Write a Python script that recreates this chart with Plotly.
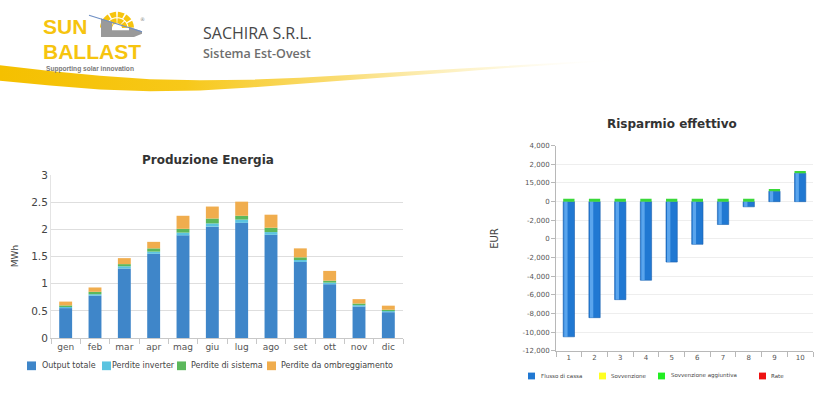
import math
import plotly.graph_objects as go

W, H = 834, 398

# ---------------- data: Produzione Energia (MWh) ----------------
months = ["gen", "feb", "mar", "apr", "mag", "giu", "lug", "ago", "set", "ott", "nov", "dic"]
output_totale = [0.55, 0.78, 1.28, 1.55, 1.89, 2.05, 2.12, 1.90, 1.40, 0.99, 0.58, 0.475]
perdite_inverter = [0.02, 0.025, 0.04, 0.04, 0.05, 0.06, 0.06, 0.05, 0.035, 0.03, 0.025, 0.02]
perdite_sistema = [0.03, 0.045, 0.04, 0.06, 0.07, 0.09, 0.07, 0.08, 0.05, 0.035, 0.03, 0.025]
perdite_ombreggiamento = [0.07, 0.08, 0.11, 0.12, 0.24, 0.22, 0.26, 0.24, 0.165, 0.18, 0.08, 0.075]

# ---------------- data: Risparmio effettivo (EUR, axis units) ----------------
anni = ["1", "2", "3", "4", "5", "6", "7", "8", "9", "10"]
flusso_di_cassa = [-14480, -12430, -10500, -8420, -6470, -4570, -2450, -550, 1110, 3050]
sovvenzione = [0, 0, 0, 0, 0, 0, 0, 0, 0, 0]
sovvenzione_aggiuntiva = [300, 300, 300, 300, 300, 300, 300, 300, 240, 240]
rate = [0, 0, 0, 0, 0, 0, 0, 0, 0, 0]
eur_tick_labels = ["4,000", "2,000", "15,000", "0", "-2,000", "0", "-2,000",
                   "-4,000", "-6,000", "-8,000", "-10,000", "-12,000"]
eur_tick_step = 2000
eur_tick_top = 6000


def px(x):
    return x / W


def py(y):
    return 1 - y / H


FONT = "DejaVu Sans, Verdana, sans-serif"
LOGO_FONT = "Liberation Sans Narrow, Arial Narrow, Liberation Sans, sans-serif"
C_OUT, C_INV, C_SYS, C_SHD = "#3f86c9", "#5bc3e0", "#5cb85c", "#f0ad4e"
C_FLUX, C_SOV, C_AGG, C_RATE = "#2078d2", "#ffff22", "#22ee22", "#ee1111"

fig = go.Figure()

# left chart
for name, vals, col in [("Output totale", output_totale, C_OUT),
                        ("Perdite inverter", perdite_inverter, C_INV),
                        ("Perdite di sistema", perdite_sistema, C_SYS),
                        ("Perdite da ombreggiamento", perdite_ombreggiamento, C_SHD)]:
    fig.add_trace(go.Bar(x=months, y=vals, name=name, marker=dict(color=col, line=dict(width=0)),
                         xaxis="x", yaxis="y", showlegend=False))

# right chart
fig.add_trace(go.Bar(x=anni, y=flusso_di_cassa, name="Flusso di cassa",
                     marker=dict(color=C_FLUX, line=dict(color="#1a5fae", width=0.6)),
                     xaxis="x2", yaxis="y2", showlegend=False))
fig.add_trace(go.Bar(x=anni, y=sovvenzione, name="Sovvenzione",
                     marker=dict(color=C_SOV, line=dict(width=0)),
                     xaxis="x2", yaxis="y2", showlegend=False))
fig.add_trace(go.Bar(x=anni, y=sovvenzione_aggiuntiva, name="Sovvenzione aggiuntiva",
                     marker=dict(color="#3ad83a", line=dict(width=0)),
                     xaxis="x2", yaxis="y2", showlegend=False))
fig.add_trace(go.Bar(x=anni, y=rate, name="Rate",
                     marker=dict(color=C_RATE, line=dict(width=0)),
                     xaxis="x2", yaxis="y2", showlegend=False))
# cylinder highlight on the cash-flow bars
fig.add_trace(go.Bar(x=anni, y=flusso_di_cassa, width=0.13, offset=-0.18,
                     marker=dict(color="rgba(110,180,245,0.75)", line=dict(width=0)),
                     xaxis="x4", yaxis="y4", showlegend=False))

# header swoosh
sw_top = [(0, 61), (50, 67), (100, 72), (150, 75.5), (200, 76.5), (250, 76), (300, 74), (350, 71),
          (400, 68), (450, 65), (500, 62), (560, 58), (620, 55)]
sw_bot = [(620, 56), (560, 60), (500, 64.5), (450, 68.5), (400, 72.5), (350, 76.5), (300, 80.5),
          (250, 84), (200, 87), (150, 88), (100, 86), (50, 82), (0, 77)]
pts = sw_top + sw_bot + [sw_top[0]]
fig.add_trace(go.Scatter(x=[p[0] for p in pts], y=[p[1] for p in pts], mode="lines",
                         line=dict(width=0), fill="toself",
                         fillgradient=dict(type="horizontal", colorscale=[
                             [0, "rgb(245,192,0)"], [0.3, "rgb(247,200,25)"],
                             [0.55, "rgba(249,214,90,0.85)"], [0.8, "rgba(252,236,170,0.45)"],
                             [1, "rgba(255,255,255,0)"]]),
                         xaxis="x3", yaxis="y3", showlegend=False, hoverinfo="skip"))

shapes = []
annotations = []

# ---- logo ----
LOGO_Y = "#f6c40f"
cx, cy = 117, 23
for r0, r1, n in [(5, 10.5, 4), (11.5, 17, 6)]:
    span = 180 / n
    for k in range(n):
        a0 = math.radians(k * span + 3)
        a1 = math.radians((k + 1) * span - 3)
        steps = 4
        outer = [(cx + r1 * math.cos(a0 + (a1 - a0) * i / steps), cy - r1 * math.sin(a0 + (a1 - a0) * i / steps)) for i in range(steps + 1)]
        inner = [(cx + r0 * math.cos(a1 - (a1 - a0) * i / steps), cy - r0 * math.sin(a1 - (a1 - a0) * i / steps)) for i in range(steps + 1)]
        path = "M " + " L ".join(f"{x:.2f},{y:.2f}" for x, y in outer + inner) + " Z"
        shapes.append(dict(type="path", xref="x3", yref="y3", path=path, fillcolor=LOGO_Y,
                           line=dict(width=0), layer="above"))
shapes.append(dict(type="path", xref="x3", yref="y3",
                   path="M 101,13 L 112,16.5 L 112,25 L 129,25 L 129,21.5 L 142,26 L 142,28.5 L 134,32 L 101,32 Z",
                   fillcolor="#9a9a9a", line=dict(width=0), layer="above"))
shapes.append(dict(type="line", xref="x3", yref="y3", x0=89, y0=9.5, x1=142, y1=26.5,
                   line=dict(color="#6f8fc4", width=1.2), layer="above"))
annotations += [
    dict(xref="x3", yref="y3", x=41, y=21.5, text="<b>SUN</b>", showarrow=False, xanchor="left", yanchor="middle",
         font=dict(family=LOGO_FONT, size=21, color=LOGO_Y)),
    dict(xref="x3", yref="y3", x=41, y=47, text="<b>BALLAST</b>", showarrow=False, xanchor="left", yanchor="middle",
         font=dict(family=LOGO_FONT, size=21, color=LOGO_Y)),
    dict(xref="x3", yref="y3", x=44, y=65, text="<b>Supporting solar innovation</b>", showarrow=False,
         xanchor="left", yanchor="middle",
         font=dict(family=LOGO_FONT, size=6.6, color="#7a7a7a")),
    dict(xref="x3", yref="y3", x=142, y=13, text="®", showarrow=False, xanchor="center", yanchor="middle",
         font=dict(family=FONT, size=5, color="#888")),
    dict(xref="paper", yref="paper", x=px(201), y=py(27.5), text="SACHIRA S.R.L.", showarrow=False,
         xanchor="left", yanchor="middle", font=dict(family="Open Sans, sans-serif", size=16, color="#474747")),
    dict(xref="paper", yref="paper", x=px(201), y=py(48.5), text="Sistema Est-Ovest", showarrow=False,
         xanchor="left", yanchor="middle",
         font=dict(family="Open Sans, sans-serif", size=12.5, color="#6e6e6e", weight=600)),
]

# ---- titles and axis titles ----
annotations += [
    dict(xref="paper", yref="paper", x=px(208), y=py(159), text="<b>Produzione Energia</b>", showarrow=False,
         xanchor="center", yanchor="middle", font=dict(family=FONT, size=12, color="#333")),
    dict(xref="paper", yref="paper", x=px(672), y=py(122), text="<b>Risparmio effettivo</b>", showarrow=False,
         xanchor="center", yanchor="middle", font=dict(family=FONT, size=12, color="#333")),
    dict(xref="paper", yref="paper", x=px(15), y=py(258), text="MWh", showarrow=False, textangle=-90,
         xanchor="center", yanchor="middle", font=dict(family=FONT, size=9, color="#444")),
    dict(xref="paper", yref="paper", x=px(495), y=py(240), text="EUR", showarrow=False, textangle=-90,
         xanchor="center", yanchor="middle", font=dict(family=FONT, size=10, color="#444")),
]

# ---- manual legends ----
def legend_item(x_sq, x_txt, yc, size, color, text, fsize):
    shapes.append(dict(type="rect", xref="paper", yref="paper", x0=px(x_sq), x1=px(x_sq + size),
                       y0=py(yc + size / 2), y1=py(yc - size / 2), fillcolor=color, line=dict(width=0)))
    annotations.append(dict(xref="paper", yref="paper", x=px(x_txt), y=py(yc), text=text, showarrow=False,
                            xanchor="left", yanchor="middle", font=dict(family=FONT, size=fsize, color="#444")))


legend_item(27, 39.5, 371, 9, C_OUT, "Output totale", 8)
legend_item(102, 110, 371, 9, C_INV, "Perdite inverter", 8)
legend_item(177, 189, 371, 9, C_SYS, "Perdite di sistema", 8)
legend_item(267, 279, 371, 9, C_SHD, "Perdite da ombreggiamento", 8)

legend_item(528, 539, 381.5, 7, C_FLUX, "Flusso di cassa", 5.5)
legend_item(599, 609, 381.5, 7, C_SOV, "Sovvenzione", 5.5)
legend_item(658, 669, 381.5, 7, C_AGG, "Sovvenzione aggiuntiva", 5.5)
legend_item(759, 769, 381.5, 7, C_RATE, "Rate", 5.5)

tickvals2 = [eur_tick_top - eur_tick_step * i for i in range(len(eur_tick_labels))]
yr2 = [tickvals2[-1], tickvals2[0]]

fig.update_layout(
    width=W, height=H, autosize=False,
    margin=dict(l=0, r=0, t=0, b=0, pad=0),
    paper_bgcolor="white", plot_bgcolor="rgba(0,0,0,0)",
    barmode="relative", bargap=0.56,
    hovermode=False,
    showlegend=False,
    font=dict(family=FONT, color="#555"),
    xaxis=dict(domain=[px(51), px(403)], anchor="y", type="category", range=[-0.5, 11.5],
               showline=True, linecolor="#c8c8c8", linewidth=1, ticks="outside", tickson="boundaries",
               ticklen=5, tickcolor="#c8c8c8", tickfont=dict(size=9, color="#555"), showgrid=False,
               fixedrange=True),
    yaxis=dict(domain=[py(342.3), py(174.3)], anchor="x", range=[0, 3], dtick=0.5,
               showgrid=True, gridcolor="#dedede", gridwidth=1, zeroline=False,
               showline=True, linecolor="#e4e4e4", ticks="", tickfont=dict(size=10.5, color="#444"),
               fixedrange=True),
    xaxis2=dict(domain=[px(556), px(813)], anchor="y2", type="category", range=[-0.5, 9.5],
                showline=True, linecolor="#b8b8b8", ticks="outside", tickson="boundaries", ticklen=5,
                tickcolor="#b8b8b8", tickfont=dict(size=7, color="#555"), showgrid=False, fixedrange=True),
    yaxis2=dict(domain=[py(355.7), py(144)], anchor="x2", range=yr2, tickmode="array",
                tickvals=tickvals2, ticktext=eur_tick_labels, showgrid=True, gridcolor="#eeeeee",
                zeroline=False, showline=True, linecolor="#b8b8b8", ticks="outside", ticklen=4,
                tickcolor="#b8b8b8", tickfont=dict(size=7, color="#555"), fixedrange=True),
    xaxis4=dict(overlaying="x2", type="category", range=[-0.5, 9.5], visible=False, fixedrange=True),
    yaxis4=dict(overlaying="y2", range=yr2, visible=False, fixedrange=True),
    xaxis3=dict(domain=[0, 1], anchor="y3", range=[0, W], visible=False, fixedrange=True),
    yaxis3=dict(domain=[py(100), 1], anchor="x3", range=[100, 0], visible=False, fixedrange=True),
    shapes=shapes,
    annotations=annotations,
)

fig.write_html("out.html", config={"displayModeBar": False, "staticPlot": True},
               post_script="document.body.style.margin='0';document.body.style.padding='0';")
